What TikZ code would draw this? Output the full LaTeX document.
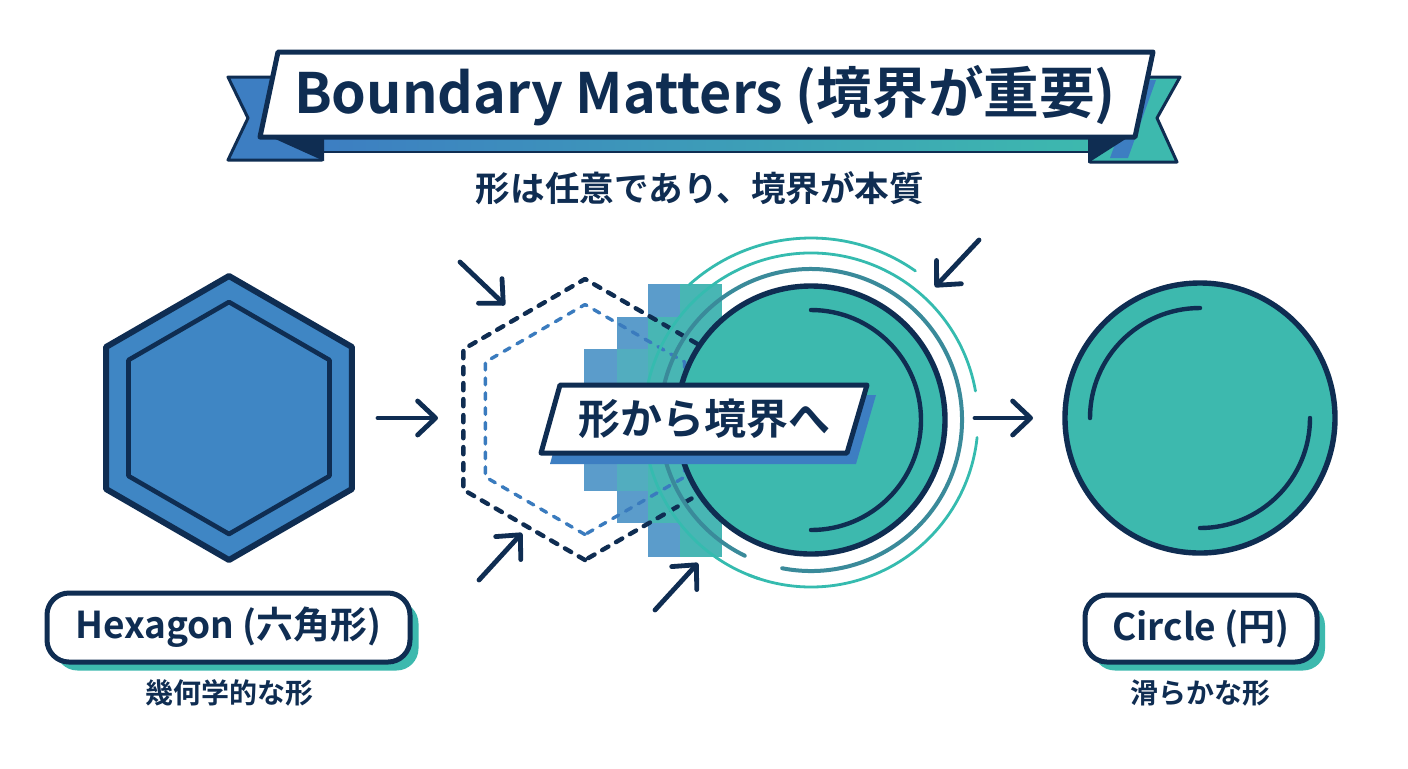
\documentclass[tikz,border=0pt]{standalone}
\usepackage{fontspec}
\setmainfont{Noto Sans CJK JP}[BoldFont={Noto Sans CJK JP Bold}]
\usetikzlibrary{arrows.meta,calc}
\definecolor{navy}{HTML}{0F2D52}
\definecolor{hexblue}{HTML}{3F86C4}
\definecolor{ribblue}{HTML}{3D7EC2}
\definecolor{tealc}{HTML}{3DB9AE}
\definecolor{darkteal}{HTML}{3A8A9A}
\definecolor{ringteal}{HTML}{35BBAF}
\definecolor{stepblue}{HTML}{5B9CCB}
\definecolor{stepmid}{HTML}{52ADBF}
\definecolor{stepteal}{HTML}{48B6B4}
\definecolor{dashblue}{HTML}{3A7BBE}
\begin{document}
\begin{tikzpicture}[x=0.5pt,y=-0.5pt,
  arr/.style={draw=navy, line width=2.4pt, line cap=round, -{Straight Barb[length=9pt,width=17pt,round]}},
  outline/.style={draw=navy, line join=round},
  pill/.style={draw=navy, line width=2.5pt, fill=white, rounded corners=11pt, inner sep=0pt},
  pillshadow/.style={fill=tealc, rounded corners=11pt, inner sep=0pt},
  lab/.style={text=navy, font=\bfseries\fontsize{18.5}{22}\selectfont},
  captext/.style={text=navy, font=\bfseries\fontsize{14}{17}\selectfont}
]
\useasboundingbox (0,0) rectangle (1408,768);
\fill[white] (0,0) rectangle (1408,768);

% ---------- title banner ----------
\draw[outline, fill=ribblue, line width=1.5pt] (228,77) -- (300,77) -- (322,160) -- (228,160) -- (248,118) -- cycle;
\draw[outline, fill=tealc, line width=1.5pt] (1180,77) -- (1110,77) -- (1090,162) -- (1177,162) -- (1157,118) -- cycle;
\fill[ribblue] (1138,80) -- (1156,80) -- (1128,158) -- (1110,158) -- cycle;
\shade[left color=ribblue, right color=tealc] (320,128) rectangle (1092,152);
\draw[navy, line width=1pt] (320,152) -- (1092,152);
\fill[navy] (262,133) -- (324,133) -- (324,161) -- cycle;
\fill[navy] (1135,133) -- (1088,133) -- (1088,163) -- cycle;
\draw[outline, fill=white, line width=2.5pt] (278,52) -- (1153,52) -- (1135,137) -- (260,137) -- cycle;
\node[text=navy, font=\bfseries\fontsize{27.8}{32}\selectfont] (title) at (705,96) {Boundary Matters (境界が重要)};
\node[text=navy, font=\bfseries\fontsize{17.3}{20}\selectfont] (subtitle) at (700,188) {形は任意であり、境界が本質};

% ---------- left hexagon ----------
\coordinate (hc) at (229,418);
\draw[outline, fill=hexblue, line width=3pt] (hc) +(30:142) -- +(90:142) -- +(150:142) -- +(210:142) -- +(270:142) -- +(330:142) -- cycle;
\draw[outline, line width=2.3pt] (hc) +(30:116) -- +(90:116) -- +(150:116) -- +(210:116) -- +(270:116) -- +(330:116) -- cycle;

% ---------- arrows left / right ----------
\coordinate (a1s) at (378,418); \coordinate (a1e) at (438,418);
\draw[arr] (a1s) -- (a1e);
\coordinate (a2s) at (975,418); \coordinate (a2e) at (1033,418);
\draw[arr] (a2s) -- (a2e);

% ---------- pixel steps ----------
\fill[stepblue] (584,349) rectangle (617,491);
\fill[stepblue] (617,317) rectangle (648,523);
\fill[stepmid] (617,349) rectangle (648,491);
\fill[stepblue] (648,284) rectangle (680,557);
\fill[stepteal] (648,317) rectangle (680,523);
\fill[stepteal] (680,284) rectangle (722,557);

% ---------- dashed hexagons ----------
\coordinate (dc) at (585,419.5);
\draw[navy, line width=2.2pt, line cap=round, line join=round, dash pattern=on 3.6pt off 4.4pt] (dc) +(90:140.5) -- +(150:140.5) -- +(210:140.5) -- +(270:140.5) -- +(330:140.5) -- +(30:140.5) -- cycle;
\draw[dashblue, line width=1.7pt, line cap=round, line join=round, dash pattern=on 3.4pt off 4pt] (dc) +(90:115) -- +(150:115) -- +(210:115) -- +(270:115) -- +(330:115) -- +(30:115) -- cycle;

% ---------- rings ----------
\coordinate (cc) at (811,420);
\draw[darkteal, line width=2pt, line cap=round] ($(cc)+(101:151)$) arc[start angle=101, end angle=-244, radius=151];
\draw[ringteal, line width=1.4pt, line cap=round] ($(cc)+(-252:167)$) arc[start angle=-252, end angle=-10, radius=167];
\draw[ringteal, line width=1.4pt, line cap=round] ($(cc)+(6:167)$) arc[start angle=6, end angle=112, radius=167];
\draw[ringteal, line width=1.4pt, line cap=round] ($(cc)+(-132:182)$) arc[start angle=-132, end angle=-55, radius=182];

% ---------- middle circle ----------
\draw[navy, fill=tealc, line width=2.7pt] (cc) circle[radius=134];
\draw[navy, line width=2.2pt, line cap=round] ($(cc)+(-90:110)$) arc[start angle=-90, end angle=90, radius=110];

% ---------- inward arrows ----------
\coordinate (d1s) at (460,262); \coordinate (d1e) at (505,305);
\coordinate (d2s) at (479,580); \coordinate (d2e) at (522,533);
\coordinate (d3s) at (655,610); \coordinate (d3e) at (698,563);
\coordinate (d4s) at (979,240); \coordinate (d4e) at (935,287);
\draw[arr] (d1s) -- (d1e);
\draw[arr] (d2s) -- (d2e);
\draw[arr] (d3s) -- (d3e);
\draw[arr] (d4s) -- (d4e);

% ---------- middle label ----------
\fill[ribblue] (569,395) -- (876,395) -- (856,464) -- (550,464) -- cycle;
\draw[outline, fill=white, line width=2.5pt] (560,385) -- (867,385) -- (847,453) -- (541,453) -- cycle;
\node[text=navy, font=\bfseries\fontsize{21}{24}\selectfont] (midlabel) at (704,419) {形から境界へ};

% ---------- right circle ----------
\coordinate (rc) at (1200,418);
\draw[navy, fill=tealc, line width=2.7pt] (rc) circle[radius=135];
\draw[navy, line width=2.2pt, line cap=round] ($(rc)+(-90:110)$) arc[start angle=-90, end angle=-180, radius=110];
\draw[navy, line width=2.2pt, line cap=round] ($(rc)+(0:110)$) arc[start angle=0, end angle=90, radius=110];

% ---------- labels ----------
\node[pillshadow, minimum width=181.5pt, minimum height=34.5pt] at (237,636) {};
\node[pill, lab, minimum width=181.5pt, minimum height=34.5pt] (hexlabel) at (228.5,627.5) {Hexagon (六角形)};
\node[captext] (hexcap) at (229,693) {幾何学的な形};

\node[pillshadow, minimum width=116pt, minimum height=33.5pt] at (1209,637) {};
\node[pill, lab, minimum width=116pt, minimum height=33.5pt] (circlabel) at (1201,628.5) {Circle (円)};
\node[captext] (circcap) at (1200,693) {滑らかな形};
\end{tikzpicture}
\end{document}
